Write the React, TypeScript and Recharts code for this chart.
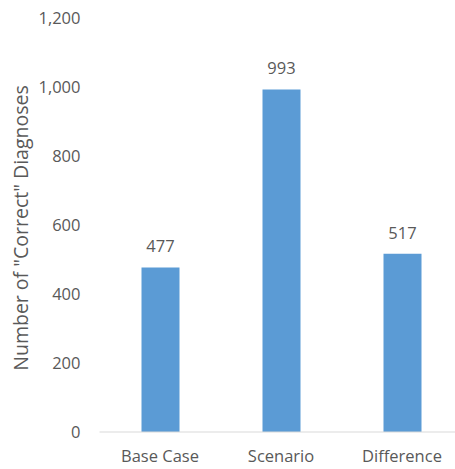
import React from "react";
import { BarChart, Bar, XAxis, YAxis, LabelList } from "recharts";

const categories = ["Base Case", "Scenario", "Difference"];
const values = [477, 993, 517];
const yTicks = [0, 200, 400, 600, 800, 1000, 1200];

const data = categories.map((name, i) => ({ name, value: values[i] }));

const FONT = "'Open Sans', sans-serif";
const TEXT = "#595959";

export default function App() {
  return (
    <div style={{ position: "fixed", left: 0, top: 0, width: 455, height: 469, overflow: "hidden", background: "#fff" }}>
      <BarChart
        width={470}
        height={469}
        data={data}
        margin={{ top: 18, right: 7.5, bottom: 0, left: 0 }}
        barSize={38}
      >
        <XAxis
          dataKey="name"
          axisLine={{ stroke: "#D9D9D9", strokeWidth: 1 }}
          tickLine={false}
          tickSize={0}
          tickMargin={18}
          height={37}
          tick={{ fill: TEXT, fontSize: 16.5, fontFamily: FONT }}
        />
        <YAxis
          domain={[0, 1200]}
          ticks={yTicks}
          interval={0}
          width={99.5}
          axisLine={false}
          tickLine={false}
          tickSize={0}
          tickMargin={19}
          tickFormatter={(v: number) => v.toLocaleString("en-US")}
          tick={{ fill: TEXT, fontSize: 16.5, fontFamily: FONT }}
          label={{
            content: () => (
              <text
                x={20}
                y={228}
                transform="rotate(-90 20 228)"
                textAnchor="middle"
                dominantBaseline="central"
                fill={TEXT}
                fontSize={19.5}
                fontFamily={FONT}
              >
                Number of "Correct" Diagnoses
              </text>
            ),
          }}
        />
        <Bar dataKey="value" fill="#5B9BD5" isAnimationActive={false}>
          <LabelList
            dataKey="value"
            position="top"
            offset={15}
            fill={TEXT}
            fontSize={16.5}
            fontFamily={FONT}
          />
        </Bar>
      </BarChart>
    </div>
  );
}
